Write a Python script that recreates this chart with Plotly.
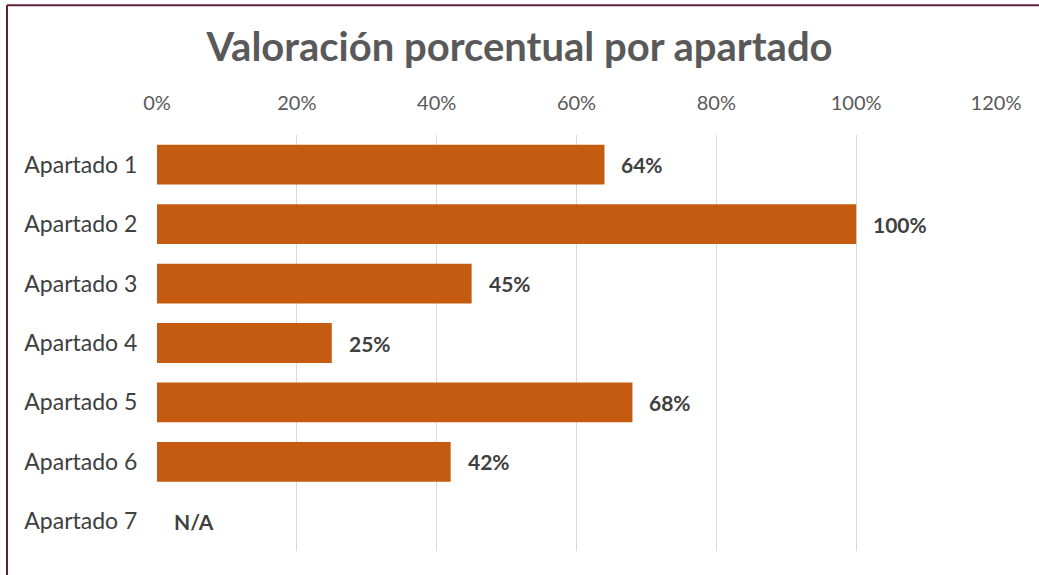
import plotly.graph_objects as go

categories = ["Apartado 1", "Apartado 2", "Apartado 3", "Apartado 4",
              "Apartado 5", "Apartado 6", "Apartado 7"]
values = [0.64, 1.00, 0.45, 0.25, 0.68, 0.42, None]
labels = ["64%", "100%", "45%", "25%", "68%", "42%", "N/A"]
tick_vals = [0, 0.2, 0.4, 0.6, 0.8, 1.0, 1.2]
tick_text = ["0%", "20%", "40%", "60%", "80%", "100%", "120%"]

BAR = "#C55A11"
TXT = "#404040"
FONT = "Lato, Open Sans, sans-serif"

fig = go.Figure()
fig.add_trace(go.Bar(
    y=categories,
    x=[v if v is not None else 0 for v in values],
    orientation="h",
    marker=dict(color=BAR, line=dict(width=0)),
    hoverinfo="skip",
))

for cat, v, lab in zip(categories, values, labels):
    fig.add_annotation(
        x=v if v is not None else 0, y=cat, xref="x", yref="y",
        text=f"<b>{lab}</b>", showarrow=False,
        xanchor="left", xshift=15,
        font=dict(family=FONT, size=21, color=TXT),
    )

# figure border (top and left edges)
top_y = (551.5 - 5) / 416.5
left_x = (7 - 157) / 839
fig.add_shape(type="line", xref="paper", yref="paper",
              x0=left_x, x1=(1045 - 157) / 839, y0=top_y, y1=top_y,
              line=dict(color="#5E1F3F", width=2))
fig.add_shape(type="line", xref="paper", yref="paper",
              x0=left_x, x1=left_x, y0=top_y, y1=-0.1,
              line=dict(color="#5E1F3F", width=2))

fig.update_layout(
    width=1039, height=575,
    paper_bgcolor="white", plot_bgcolor="white",
    margin=dict(l=157, r=43, t=135, b=24),
    bargap=0.33,
    showlegend=False,
    title=dict(
        text="<b>Valoración porcentual por apartado</b>",
        x=0.5, xref="container", xanchor="center",
        y=1 - 47 / 575, yref="container", yanchor="middle",
        font=dict(family=FONT, size=40, color="#595959"),
    ),
    xaxis=dict(
        side="top", range=[0, 1.2],
        tickvals=tick_vals, ticktext=tick_text,
        showgrid=True, gridcolor="#D9D9D9", gridwidth=1,
        zeroline=False, showline=False,
        ticks="outside", ticklen=16, tickcolor="rgba(0,0,0,0)",
        tickfont=dict(family=FONT, size=20, color="#595959"),
        fixedrange=True,
    ),
    yaxis=dict(
        autorange="reversed",
        showgrid=False, zeroline=False, showline=False,
        ticks="outside", ticklen=14, tickcolor="rgba(0,0,0,0)",
        tickfont=dict(family=FONT, size=23, color=TXT),
        fixedrange=True,
    ),
)

fig.write_html("out.html",
               config={"displayModeBar": False},
               post_script="document.body.style.margin='0';document.body.style.padding='0';")
